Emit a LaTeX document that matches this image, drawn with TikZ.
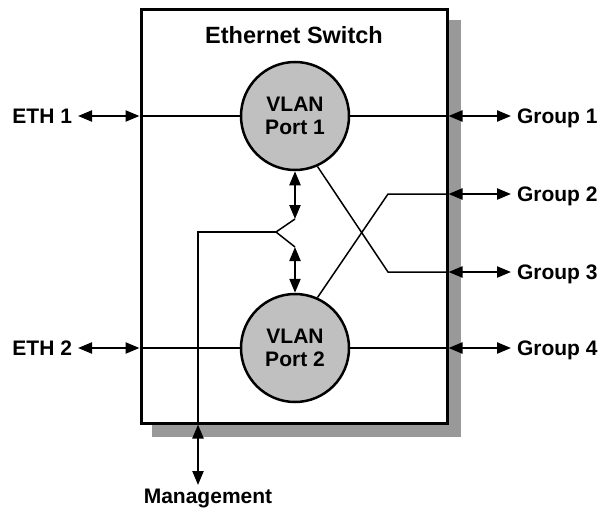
\documentclass[tikz,border=0pt]{standalone}
\usepackage{fontspec}
\setmainfont{Liberation Sans}
\usetikzlibrary{arrows.meta,backgrounds}

\definecolor{portgray}{RGB}{192,192,192}
\definecolor{shadowgray}{RGB}{153,153,153}

\tikzset{
  switchbox/.style={draw, line width=3pt, fill=white, rectangle,
    minimum width=306pt, minimum height=413pt, inner sep=0pt},
  port/.style={draw, line width=2.5pt, fill=portgray, circle,
    minimum size=108pt, inner sep=0pt, align=center,
    font=\fontsize{21}{23}\selectfont\bfseries},
  lbl/.style={inner sep=0pt, outer sep=0pt, text height=15pt, text depth=0pt,
    font=\fontsize{21}{23}\selectfont\bfseries},
  wire/.style={line width=1.5pt},
  link/.style={line width=2.2pt, {Triangle[length=14pt,width=11pt]}-{Triangle[length=14pt,width=11pt]}},
}

\begin{document}
\begin{tikzpicture}[x=1pt,y=-1pt]
  \useasboundingbox (0,0) rectangle (601,508);

  % switch enclosure with its drop shadow
  \node[switchbox] (box) at (294,216.5) {};
  \begin{scope}[on background layer]
    \fill[shadowgray] ([shift={(12,12)}]box.north west) rectangle ([shift={(12,12)}]box.south east);
  \end{scope}
  \node[font=\fontsize{23.5}{25}\selectfont\bfseries] (title) at (294,35) {Ethernet Switch};

  % VLAN ports
  \node[port] (p1) at (295,116) {VLAN\\Port 1};
  \node[port] (p2) at (295,348) {VLAN\\Port 2};

  % outside labels
  \node[lbl, anchor=east] (e1) at (72,116) {ETH 1};
  \node[lbl, anchor=east] (e2) at (72,348) {ETH 2};
  \node[lbl, anchor=west] (g1) at (517,116) {Group 1};
  \node[lbl, anchor=west] (g2) at (517,194) {Group 2};
  \node[lbl, anchor=west] (g3) at (517,272) {Group 3};
  \node[lbl, anchor=west] (g4) at (517,348) {Group 4};
  \node[lbl, anchor=base] (mg) at (208,503) {Management};

  % bend points of the internal wiring
  \coordinate (b2) at (388,194);
  \coordinate (b3) at (388,272);
  \coordinate (z1) at (295,219);
  \coordinate (z2) at (276,232);
  \coordinate (z3) at (295,247);
  \coordinate (m1) at (198,232);
  \coordinate (m2) at (198,485);

  % internal wiring
  \draw[wire] (box.west |- p1) -- (p1.west);
  \draw[wire] (p1.east) -- (box.east |- p1);
  \draw[wire] (box.west |- p2) -- (p2.west);
  \draw[wire] (p2.east) -- (box.east |- p2);
  \draw[wire] (p2.66) -- (b2) -- (box.east |- b2);
  \draw[wire] (p1.-66) -- (b3) -- (box.east |- b3);
  \draw[wire] (z1) -- (z2) -- (z3);
  \draw[wire] (z2) -- (m1) -- (m1 |- box.south);

  % links between the ports and the management tap
  \draw[link] (p1.south) -- (z1);
  \draw[link] (z3) -- (p2.north);

  % external links
  \draw[link] ([xshift=6pt]e1.east |- p1) -- (box.west |- p1);
  \draw[link] ([xshift=6pt]e2.east |- p2) -- (box.west |- p2);
  \draw[link] (box.east |- p1) -- ([xshift=-6pt]g1.west |- p1);
  \draw[link] (box.east |- b2) -- ([xshift=-6pt]g2.west |- b2);
  \draw[link] (box.east |- b3) -- ([xshift=-6pt]g3.west |- b3);
  \draw[link] (box.east |- p2) -- ([xshift=-6pt]g4.west |- p2);
  \draw[link] (m1 |- box.south) -- (m2);
\end{tikzpicture}
\end{document}
